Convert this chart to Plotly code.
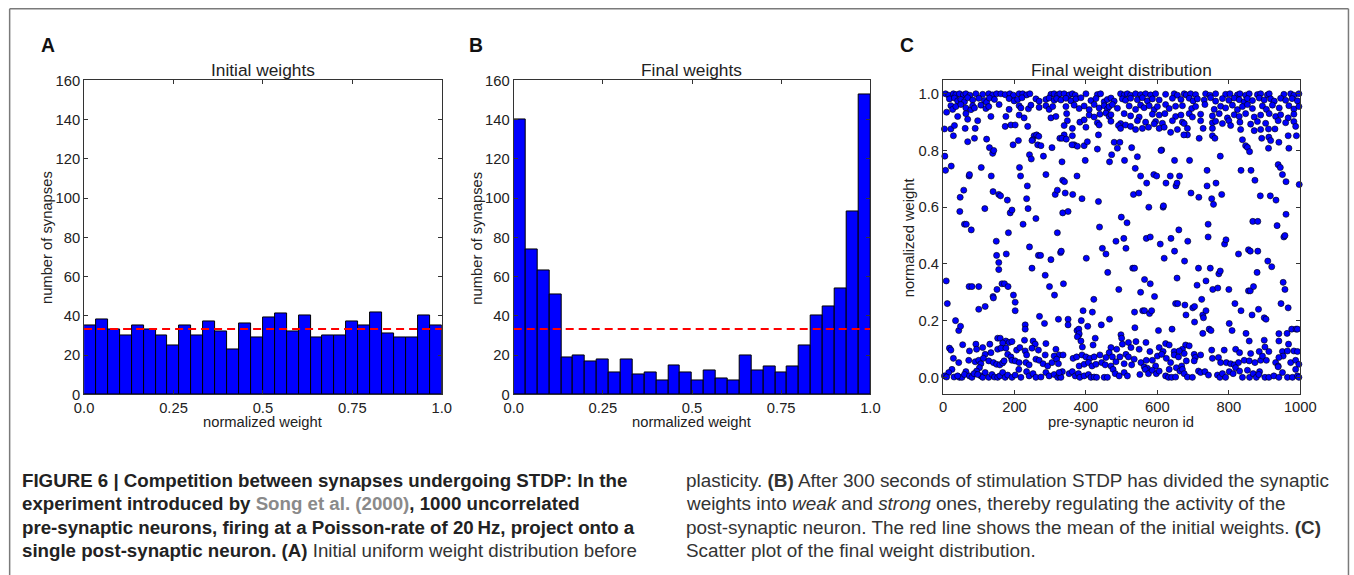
import numpy as np
import plotly.graph_objects as go

# Layout is specified in target-image pixels; the photographed page is a little larger than
# the target picture, so target pixels are converted into page pixels through SX / SY.
TARGET_W, TARGET_H = 1354, 575
SX, SY = 1354 / 1379, 575 / 593
OFF = 8  # body margin of the html page
W, H = 1369, 583
FS = 1 / SX  # font scale so texts keep their target size

# ---------------- data ----------------
initial_counts = [35, 38, 33, 30, 35, 33, 30, 25, 35, 30, 37, 32, 23, 36, 29,
                  39, 41, 32, 40, 29, 30, 30, 37, 35, 42, 31, 29, 29, 40, 35]
final_counts = [140, 74, 63, 51, 19, 20, 17, 18, 11, 18, 10, 11, 7, 15, 11,
                7, 12, 8, 7, 20, 12, 14, 11, 14, 25, 40, 45, 54, 93, 153]
hist_xticks = [0.0, 0.25, 0.5, 0.75, 1.0]
hist_xticklabels = ["0.0", "0.25", "0.5", "0.75", "1.0"]
hist_yticks = [0, 20, 40, 60, 80, 100, 120, 140, 160]
scatter_xticks = [0, 200, 400, 600, 800, 1000]
scatter_yticks = [0.0, 0.2, 0.4, 0.6, 0.8, 1.0]
scatter_yticklabels = ["0.0", "0.2", "0.4", "0.6", "0.8", "1.0"]

# scatter points: (pre-synaptic neuron id, normalized weight)
top_left_pts = [
    (7,1.0),(16,0.995),(29,1.0),(36,0.997),(46,1.0),(57,0.996),(64,1.0),(75,0.995),(92,1.0),(111,0.998),
    (128,1.0),(139,0.996),(150,1.0),(162,1.0),(174,0.997),(187,1.0),(197,0.995),(213,1.0),(223,1.0),
    (234,0.996),(243,1.0),(302,0.998),(311,1.0),(321,0.995),(327,1.0),
    (18,0.982),(32,0.985),(41,0.975),(50,0.98),(60,0.972),(69,0.986),(83,0.978),(100,0.984),(116,0.976),
    (122,0.97),(130,0.985),(144,0.98),(185,0.983),(199,0.975),(209,0.98),(221,0.986),(260,0.982),
    (269,0.974),(288,0.98),(297,0.985),(311,0.977),(318,0.983),
    (22,0.958),(27,0.945),(36,0.955),(50,0.962),(64,0.95),(78,0.944),(83,0.958),(88,0.95),(106,0.96),
    (120,0.948),(128,0.955),(157,0.962),(185,0.945),(213,0.958),(218,0.95),(239,0.947),(246,0.96),
    (269,0.952),(288,0.958),(297,0.945),(307,0.955),
    (10,0.935),(41,0.92),(64,0.93),(69,0.91),(97,0.905),(134,0.92),(176,0.92),(213,0.925),(227,0.915),
    (302,0.915),(316,0.92),
    (4,0.876),(22,0.876),(32,0.888),(62,0.878),(90,0.878),(174,0.885),(190,0.89),(202,0.89),(237,0.885),
]
top_mid_pts = [
    (339,1.0),(353,0.996),(362,1.0),(370,0.995),(400,1.0),(432,0.997),(441,1.0),(497,1.0),(507,0.996),
    (516,1.0),(525,0.995),(539,1.0),(553,0.997),(567,1.0),(581,0.996),(595,1.0),(623,0.998),(647,1.0),(656,0.995),
    (330,0.978),(344,0.984),(358,0.975),(372,0.982),(386,0.986),(414,0.976),(428,0.983),(451,0.972),
    (460,0.98),(470,0.985),(479,0.974),(502,0.982),(511,0.977),(525,0.984),(544,0.979),(558,0.986),
    (572,0.975),(586,0.982),(605,0.978),(642,0.984),
    (344,0.955),(367,0.96),(381,0.948),(395,0.957),(409,0.944),(423,0.962),(437,0.95),(451,0.958),
    (460,0.946),(465,0.955),(474,0.962),(488,0.949),(521,0.957),(539,0.945),(553,0.96),(563,0.951),
    (577,0.958),(591,0.944),(600,0.955),(623,0.962),(633,0.948),(651,0.956),
    (346,0.93),(409,0.925),(423,0.918),(439,0.928),(456,0.932),(465,0.92),(470,0.926),(507,0.93),
    (525,0.922),(549,0.918),(586,0.928),(605,0.925),(621,0.93),(651,0.92),
    (348,0.905),(383,0.9),(395,0.908),(432,0.898),(470,0.903),(497,0.895),(544,0.905),(567,0.9),
    (595,0.902),(614,0.896),(642,0.905),
    (339,0.888),(362,0.878),(400,0.882),(437,0.89),(491,0.888),(497,0.878),(511,0.89),(525,0.885),
    (539,0.874),(558,0.878),(575,0.882),(591,0.894),(605,0.878),(619,0.882),(637,0.864),(656,0.874),
]
top_right_pts = [
    (675,1.0),(681,0.996),(693,1.0),(707,0.997),(735,1.0),(747,0.995),(763,1.0),(791,0.998),(803,1.0),
    (824,0.996),(831,1.0),(847,0.995),(857,1.0),(880,0.997),(889,1.0),(908,0.996),(913,1.0),(954,0.998),
    (973,1.0),(982,0.995),(996,1.0),
    (666,0.98),(689,0.984),(700,0.975),(712,0.982),(731,0.978),(749,0.986),(763,0.974),(782,0.983),
    (800,0.977),(815,0.985),(829,0.979),(843,0.972),(852,0.983),(866,0.976),(885,0.985),(899,0.978),
    (917,0.982),(927,0.974),(945,0.984),(959,0.977),(977,0.983),(992,0.975),
    (670,0.958),(696,0.948),(707,0.955),(733,0.962),(759,0.945),(777,0.956),(791,0.95),(810,0.96),
    (824,0.944),(838,0.955),(852,0.962),(866,0.948),(894,0.957),(905,0.945),(922,0.96),(941,0.95),
    (968,0.958),(982,0.946),(996,0.955),
    (666,0.925),(689,0.93),(698,0.918),(721,0.928),(754,0.922),(773,0.93),(796,0.915),(815,0.926),
    (829,0.92),(847,0.93),(871,0.918),(889,0.925),(913,0.93),(931,0.92),(945,0.926),(966,0.915),(982,0.928),
    (670,0.9),(675,0.895),(721,0.905),(754,0.898),(763,0.903),(782,0.895),(800,0.905),(831,0.9),
    (861,0.893),(880,0.902),(903,0.896),(938,0.905),(959,0.898),(982,0.902),
    (684,0.878),(728,0.878),(754,0.878),(805,0.888),(833,0.874),(871,0.87),(889,0.874),(911,0.876),
    (929,0.876),(987,0.885),
]
upper_mid_pts = [
    (122,0.84),(88,0.843),(69,0.831),(29,0.852),(255,0.852),(262,0.855),(268,0.85),(251,0.838),
    (265,0.82),(274,0.817),(211,0.835),(327,0.843),(139,0.79),
    (339,0.855),(333,0.843),(362,0.852),(367,0.82),(376,0.815),(395,0.817),(404,0.831),(435,0.855),
    (432,0.805),(479,0.829),(495,0.829),(488,0.808),(544,0.778),(538,0.737),(612,0.802),
    (684,0.855),(717,0.843),(754,0.852),(761,0.843),(838,0.838),(847,0.817),(852,0.811),(858,0.796),
    (892,0.843),(912,0.847),(917,0.835),(911,0.808),(940,0.829),(968,0.808),(966,0.852),(989,0.852),
]
middle_pts = [
    (5,0.78),(7,0.73),(23,0.745),(9,0.34),(12,0.26),(47,0.585),(48,0.635),(58,0.66),(60,0.54),(65,0.54),
    (73,0.71),(74,0.715),(79,0.52),(73,0.32),(81,0.32),(100,0.32),(100,0.24),(35,0.20),(44,0.165),(49,0.18),
    (107,0.74),(117,0.595),(118,0.25),(130,0.81),(135,0.71),(140,0.655),(140,0.285),(141,0.28),(149,0.48),
    (150,0.43),(156,0.405),(156,0.38),(151,0.31),(156,0.645),(161,0.64),(165,0.33),(172,0.33),(177,0.435),
    (180,0.625),(183,0.51),(182,0.32),(188,0.58),(193,0.59),(197,0.29),(202,0.265),(202,0.235),(142,0.80),
    (196,0.82),(214,0.74),(217,0.71),(224,0.54),(230,0.185),(230,0.17),(234,0.63),(236,0.675),(238,0.595),
    (242,0.785),(247,0.77),(242,0.46),(249,0.385),(249,0.835),(260,0.56),(267,0.43),(273,0.43),(270,0.215),
    (281,0.78),(284,0.19),(286,0.36),(288,0.715),(298,0.32),(302,0.415),(305,0.81),(312,0.29),(314,0.645),
    (320,0.66),(320,0.51),(323,0.205),(329,0.44),(331,0.445),(333,0.76),(335,0.695),(340,0.69),(335,0.58),
    (342,0.65),(337,0.33),(345,0.84),(350,0.205),(350,0.585),(350,0.185),(361,0.82),(363,0.645),(375,0.71),
    (375,0.165),(380,0.17),(380,0.15),(389,0.63),(392,0.235),(387,0.20),(398,0.765),(401,0.42),(405,0.18),
    (418,0.23),(422,0.275),(435,0.62),(438,0.53),(443,0.185),(446,0.455),(456,0.435),(461,0.37),(466,0.205),
    (466,0.76),(472,0.785),(484,0.48),(492,0.31),(499,0.565),(506,0.49),(512,0.455),(515,0.545),(508,0.765),
    (528,0.81),(531,0.385),(536,0.385),(533,0.645),(536,0.23),(537,0.175),(553,0.71),(548,0.65),(553,0.30),
    (559,0.235),(564,0.235),(564,0.345),(569,0.49),(570,0.685),(576,0.60),(580,0.33),(580,0.495),(578,0.225),
    (584,0.235),(590,0.715),(592,0.285),(598,0.71),(603,0.165),(608,0.47),(610,0.80),(616,0.60),(617,0.605),
    (619,0.42),(624,0.685),(636,0.71),(638,0.49),(641,0.17),(648,0.765),(648,0.445),(652,0.675),(655,0.685),
    (655,0.35),(651,0.26),(657,0.26),(660,0.52),(662,0.71),(674,0.855),(676,0.41),(677,0.255),(680,0.22),
    (685,0.48),(690,0.765),(694,0.65),(699,0.245),(704,0.25),(704,0.195),(711,0.325),(715,0.385),(716,0.635),
    (724,0.275),(727,0.22),(729,0.21),(727,0.155),(736,0.235),(736,0.34),(739,0.73),(739,0.675),(742,0.54),
    (742,0.495),(745,0.17),(750,0.165),(748,0.385),(752,0.63),(755,0.31),(757,0.61),(764,0.685),(769,0.315),
    (772,0.365),(776,0.375),(776,0.78),(780,0.645),(788,0.47),(792,0.485),(800,0.31),(801,0.19),(809,0.165),
    (817,0.26),(827,0.435),(834,0.73),(834,0.235),(848,0.155),(855,0.45),(860,0.445),(855,0.305),(860,0.305),
    (862,0.73),(865,0.22),(867,0.55),(881,0.55),(869,0.32),(873,0.695),(881,0.445),(879,0.37),(883,0.24),
    (888,0.64),(899,0.21),(904,0.205),(909,0.41),(916,0.64),(920,0.39),(932,0.625),(935,0.535),(938,0.75),
    (944,0.74),(946,0.26),(950,0.715),(952,0.335),(954,0.495),(957,0.50),(957,0.31),(960,0.69),(960,0.575),
    (963,0.155),(966,0.245),(976,0.17),(988,0.17),(997,0.68),
]
bottom_left_pts = [
    (153,0.138),(160,0.138),(176,0.128),(185,0.123),(193,0.126),(228,0.131),(252,0.128),(258,0.117),
    (288,0.119),(167,0.121),(131,0.117),(92,0.117),(55,0.115),(18,0.103),(22,0.096),
    (74,0.093),(94,0.099),(111,0.105),(118,0.081),(134,0.087),(153,0.099),(162,0.103),(176,0.103),
    (206,0.096),(230,0.093),(249,0.103),(267,0.096),(286,0.079),(316,0.099),(325,0.079),(311,0.075),
    (181,0.081),(190,0.072),(234,0.079),(215,0.105),
    (29,0.067),(44,0.052),(72,0.06),(90,0.055),(100,0.06),(106,0.048),(113,0.067),(128,0.058),(141,0.052),
    (150,0.046),(159,0.044),(167,0.051),(171,0.058),(193,0.06),(202,0.058),(213,0.052),(232,0.052),
    (241,0.044),(260,0.064),(269,0.06),(280,0.048),(293,0.04),(305,0.052),(318,0.064),(323,0.048),
    (102,0.034),(94,0.022),(64,0.02),(25,0.028),(16,0.017),(4,0.005),(31,0.001),(46,0.0),(53,0.0),
    (60,0.01),(74,0.005),(81,0.0),(87,0.013),(106,0.005),(111,0.0),(118,0.017),(128,0.0),(137,0.01),
    (144,0.001),(153,0.0),(159,0.005),(167,0.017),(174,0.0),(181,0.008),(193,0.0),(202,0.008),
    (212,0.028),(218,0.0),(234,0.02),(241,0.005),(252,0.013),(260,0.0),(274,0.001),(288,0.017),
    (297,0.005),(311,0.01),(321,0.0),(327,0.005),(10,0.001),(41,0.005),(97,0.01),
]
bottom_mid_pts = [
    (498,0.15),(500,0.138),(381,0.154),(376,0.143),(386,0.128),(390,0.107),(420,0.114),(426,0.138),
    (502,0.117),(519,0.123),(526,0.105),(540,0.126),(568,0.123),(623,0.119),(633,0.114),(647,0.091),
    (336,0.079),(605,0.105),(616,0.091),(579,0.091),(549,0.099),(486,0.099),(470,0.105),(465,0.087),
    (364,0.067),(374,0.072),(389,0.079),(400,0.072),(411,0.067),(423,0.072),(439,0.079),(456,0.07),
    (474,0.072),(495,0.072),(512,0.081),(519,0.072),(535,0.064),(554,0.052),(569,0.06),(586,0.06),
    (600,0.075),(612,0.081),(625,0.067),(637,0.052),(647,0.079),(659,0.072),(381,0.04),(395,0.046),
    (407,0.052),(417,0.04),(428,0.046),(444,0.052),(454,0.044),(470,0.04),(484,0.055),(507,0.048),
    (528,0.044),(563,0.037),(572,0.032),(595,0.04),(633,0.028),(653,0.034),
    (334,0.02),(353,0.013),(362,0.02),(370,0.005),(379,0.013),(383,0.0),(395,0.005),(407,0.01),
    (414,0.0),(423,0.001),(430,0.0),(451,0.0),(460,0.0),(476,0.028),(482,0.013),(493,0.005),
    (507,0.017),(516,0.005),(551,0.01),(566,0.028),(575,0.013),(586,0.025),(597,0.013),(605,0.022),
    (623,0.005),(631,0.0),(640,0.0),(651,0.001),(663,0.022),(330,0.0),(325,0.017),
]
bottom_right_pts = [
    (857,0.128),(899,0.131),(940,0.154),(940,0.128),(967,0.117),(992,0.17),(982,0.093),(679,0.114),
    (689,0.111),(670,0.099),(675,0.084),(661,0.093),(752,0.096),(787,0.096),(819,0.099),(830,0.087),
    (885,0.091),(901,0.107),(950,0.091),(912,0.091),(964,0.093),(992,0.091),
    (703,0.081),(706,0.07),(703,0.058),(721,0.079),(754,0.067),(771,0.07),(777,0.052),(793,0.052),
    (805,0.048),(815,0.044),(827,0.052),(843,0.06),(857,0.058),(873,0.052),(889,0.06),(905,0.06),
    (931,0.052),(938,0.04),(952,0.075),(973,0.052),(987,0.06),(996,0.046),(861,0.084),(894,0.075),
    (940,0.07),(668,0.04),(681,0.058),
    (670,0.028),(675,0.013),(684,0.001),(698,0.0),(715,0.022),(721,0.017),(733,0.02),(743,0.008),
    (768,0.008),(775,0.0),(782,0.013),(791,0.0),(801,0.02),(812,0.013),(819,0.034),(830,0.022),
    (838,0.0),(852,0.025),(858,0.0),(868,0.013),(877,0.0),(886,0.02),(901,0.0),(912,0.0),(926,0.005),
    (938,0.037),(940,0.0),(950,0.017),(964,0.0),(978,0.0),(987,0.028),(992,0.005),(996,0.0),(884,0.01),
]

# ---------------- figure ----------------
def px_x(p):
    # target-image pixel -> paper fraction
    return (p / SX - OFF) / W

def px_y(p):
    return 1 - (p / SY - OFF) / H

fig = go.Figure()

bin_edges = np.linspace(0.0, 1.0, len(initial_counts) + 1)
bin_centers = (bin_edges[:-1] + bin_edges[1:]) / 2
bin_width = bin_edges[1] - bin_edges[0]
mean_count = sum(initial_counts) / len(initial_counts)

for counts, xa, ya in [(initial_counts, "x", "y"), (final_counts, "x2", "y2")]:
    fig.add_trace(go.Bar(x=bin_centers, y=counts, width=bin_width, xaxis=xa, yaxis=ya,
                         marker=dict(color="#0000ff", line=dict(color="black", width=1)),
                         showlegend=False, hoverinfo="skip"))
    fig.add_trace(go.Scatter(x=[0.0, 1.0], y=[mean_count, mean_count], xaxis=xa, yaxis=ya,
                             mode="lines", line=dict(color="#ff0000", width=2, dash="8px,5px"),
                             showlegend=False, hoverinfo="skip"))

all_pts = (top_left_pts + top_mid_pts + top_right_pts + upper_mid_pts + middle_pts
           + bottom_left_pts + bottom_mid_pts + bottom_right_pts)
ids = [p[0] for p in all_pts]
wts = [p[1] for p in all_pts]
fig.add_trace(go.Scatter(x=ids, y=wts, xaxis="x3", yaxis="y3", mode="markers",
                         marker=dict(color="#0000ff", size=6.1, line=dict(color="black", width=0.6)),
                         showlegend=False, hoverinfo="skip", cliponaxis=False))

SANS = "Liberation Sans, Arial, sans-serif"
tickfont = dict(family=SANS, size=14.5 * FS, color="#222")
common = dict(showline=True, linecolor="#333", linewidth=1, mirror="allticks", ticks="inside",
              ticklen=4, tickwidth=1, tickcolor="#333", showgrid=False, zeroline=False,
              tickfont=tickfont)

ydom = [px_y(393), px_y(80)]
fig.update_layout(
    xaxis=dict(domain=[px_x(82), px_x(440)], range=[0, 1], tickvals=hist_xticks,
               ticktext=hist_xticklabels, anchor="y", **common),
    yaxis=dict(domain=ydom, range=[0, 160], tickvals=hist_yticks, anchor="x", **common),
    xaxis2=dict(domain=[px_x(512), px_x(869)], range=[0, 1], tickvals=hist_xticks,
                ticktext=hist_xticklabels, anchor="y2", **common),
    yaxis2=dict(domain=ydom, range=[0, 160], tickvals=hist_yticks, anchor="x2", **common),
    xaxis3=dict(domain=[px_x(941.7), px_x(1299.3)], range=[0, 1000], tickvals=scatter_xticks,
                anchor="y3", **common),
    yaxis3=dict(domain=[px_y(392.3), px_y(80)], range=[-0.0577, 1.047], tickvals=scatter_yticks,
                ticktext=scatter_yticklabels, anchor="x3", **common),
    bargap=0,
    width=W, height=H, autosize=False,
    margin=dict(l=0, r=0, t=0, b=0),
    paper_bgcolor="white", plot_bgcolor="white",
)

ann = []
lab_font = dict(family=SANS, size=14.5 * FS, color="#222")
title_font = dict(family=SANS, size=17 * FS, color="#222")
letter_font = dict(family=SANS, size=19 * FS, color="#111")

def add_text(text, x, y, font, xanchor="center", yanchor="middle", angle=0):
    ann.append(dict(text=text, x=px_x(x), y=px_y(y), xref="paper", yref="paper",
                    showarrow=False, xanchor=xanchor, yanchor=yanchor, font=font,
                    textangle=angle))

for letter, lx in [("A", 46), ("B", 474), ("C", 906)]:
    add_text("<b>%s</b>" % letter, lx, 45, letter_font)
for t, cx in [("Initial weights", 261), ("Final weights", 690), ("Final weight distribution", 1120)]:
    add_text(t, cx, 70, title_font)
for t, cx in [("normalized weight", 261), ("normalized weight", 690), ("pre-synaptic neuron id", 1120)]:
    add_text(t, cx, 421, lab_font)
for t, cx in [("number of synapses", 45), ("number of synapses", 475), ("normalized weight", 908)]:
    add_text(t, cx, 237, lab_font, angle=-90)

left_font = dict(family=SANS, size=18.7, color="#222")
right_font = dict(family=SANS, size=18.9, color="#333")
left_lines = [
    "<b>FIGURE 6 | Competition between synapses undergoing STDP: In the</b>",
    "<b>experiment introduced by </b><span style='color:#8a8a8a'><b>Song et al. (2000)</b></span><b>, 1000 uncorrelated</b>",
    "<b>pre-synaptic neurons, firing at a Poisson-rate of 20\u2009Hz, project onto a</b>",
    "<b>single post-synaptic neuron. (A)</b> <span style='color:#333'>Initial uniform weight distribution before</span>",
]
right_lines = [
    "plasticity. <b>(B)</b> After 300 seconds of stimulation STDP has divided the synaptic",
    "weights into <i>weak</i> and <i>strong</i> ones, thereby regulating the activity of the",
    "post-synaptic neuron. The red line shows the mean of the initial weights. <b>(C)</b>",
    "Scatter plot of the final weight distribution.",
]
for i, (ll, rl) in enumerate(zip(left_lines, right_lines)):
    yy = [478.5, 502, 525.5, 549][i]
    add_text(ll, 18, yy, left_font, xanchor="left")
    add_text(rl, 682, yy, right_font, xanchor="left")

fig.update_layout(annotations=ann)

frame = dict(type="line", xref="paper", yref="paper", line=dict(color="#7a7a7a", width=1.5))
fig.update_layout(shapes=[
    dict(frame, x0=px_x(7.5), x1=px_x(1347.5), y0=px_y(8.5), y1=px_y(8.5)),
    dict(frame, x0=px_x(7.5), x1=px_x(7.5), y0=px_y(8.5), y1=0),
    dict(frame, x0=px_x(1347.5), x1=px_x(1347.5), y0=px_y(8.5), y1=0),
])

fig.write_html("out.html")
